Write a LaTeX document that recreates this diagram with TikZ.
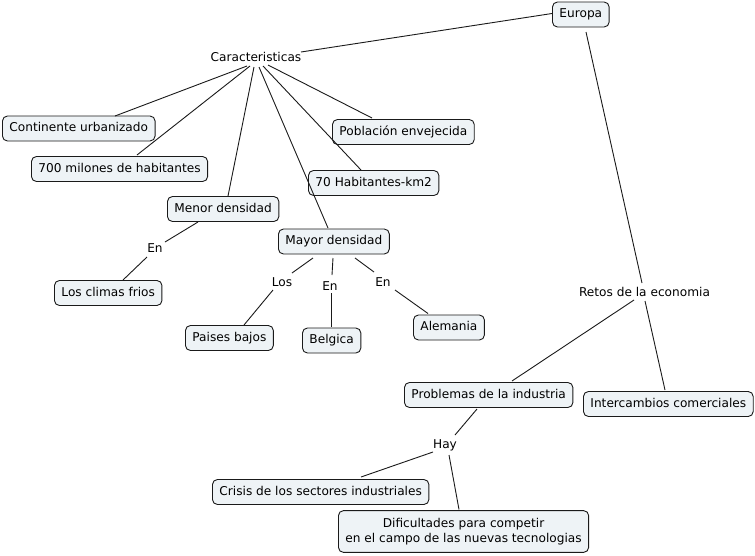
\documentclass[tikz,border=0pt]{standalone}
\usepackage{fontspec}
\setmainfont{DejaVu Sans}
\usetikzlibrary{calc}
\definecolor{boxfill}{HTML}{EEF3F6}
\definecolor{edge}{HTML}{1A1A1A}
\tikzset{
  concept/.style={draw=edge, fill=boxfill, rounded corners=5pt, line width=0.9pt,
    anchor=west, inner xsep=7pt, inner ysep=6.5pt, text height=9pt, text depth=3pt},
  concept2/.style={draw=edge, fill=boxfill, rounded corners=5pt, line width=0.9pt,
    anchor=west, inner xsep=7pt, inner ysep=7.5pt, align=center},
  phrase/.style={inner sep=1pt},
  link/.style={draw=edge, line width=0.9pt}
}
\begin{document}
\begin{tikzpicture}[x=1pt,y=-1pt,font=\fontsize{12.15}{15}\selectfont]
\useasboundingbox[fill=white] (0,0) rectangle (755,555);
% concepts
\node[concept] (eur) at (552,14.5) {Europa};
\node[concept] (cont) at (2,128.5) {Continente urbanizado};
\node[concept] (mil) at (31,169) {700 milones de habitantes};
\node[concept] (pob) at (332,132) {Población envejecida};
\node[concept] (hab) at (308,183) {70 Habitantes-km2};
\node[concept] (menor) at (167,209) {Menor densidad};
\node[concept] (mayor) at (278,241.5) {Mayor densidad};
\node[concept] (climas) at (54,293) {Los climas frios};
\node[concept] (paises) at (185,338) {Paises bajos};
\node[concept] (belg) at (302,340.5) {Belgica};
\node[concept] (alem) at (413,327.5) {Alemania};
\node[concept] (prob) at (404,395) {Problemas de la industria};
\node[concept] (inter) at (583,404) {Intercambios comerciales};
\node[concept] (crisis) at (212,492) {Crisis de los sectores industriales};
\node[concept2] (dif) at (338,531.5) {Dificultades para competir\\en el campo de las nuevas tecnologias};
% linking phrases
\node[phrase] (car) at (256,57) {Caracteristicas};
\node[phrase] (retos) at (644.5,292) {Retos de la economia};
\node[phrase] (en1) at (155,248) {En};
\node[phrase] (los) at (282,282) {Los};
\node[phrase] (en2) at (330,286) {En};
\node[phrase] (en3) at (383,282) {En};
\node[phrase] (hay) at (445,445) {Hay};
% connectors
\draw[link] ($(eur.west)+(0,-1)$) -- ($(car)+(45,-5)$);
\draw[link] ($(car)+(-9,9)$) -- ($(cont.west)+(113,-12.5)$);
\draw[link] ($(car)+(-6,9)$) -- ($(mil.west)+(106,-14)$);
\draw[link] ($(car)+(-2,10)$) -- ($(menor.west)+(61,-13)$);
\draw[link] ($(car)+(3,10)$) -- ($(mayor.west)+(50,-13.5)$);
\draw[link] ($(car)+(7,9)$) -- ($(hab.west)+(53,-13)$);
\draw[link] ($(car)+(12,8)$) -- ($(pob.west)+(40,-14)$);
\draw[link] ($(eur.west)+(34,17.5)$) -- ($(retos)+(-2.5,-9)$);
\draw[link] ($(retos)+(-10.5,8)$) -- ($(prob.west)+(108,-14)$);
\draw[link] ($(retos)+(0.5,9)$) -- ($(inter.west)+(82,-14)$);
\draw[link] ($(menor.west)+(31,13)$) -- ($(en1)+(10,-6)$);
\draw[link] ($(en1)+(-8,9)$) -- ($(climas.west)+(69,-13)$);
\draw[link] ($(mayor.west)+(35,16.5)$) -- ($(los)+(10,-9)$);
\draw[link] ($(los)+(-9,8)$) -- ($(paises.west)+(59,-13)$);
\draw[link] ($(mayor.west)+(55,16.5)$) -- ($(en2)+(2,-11)$);
\draw[link] ($(en2)+(1,7)$) -- ($(belg.west)+(29,-13.5)$);
\draw[link] ($(mayor.west)+(77,16.5)$) -- ($(en3)+(-9,-10)$);
\draw[link] ($(en3)+(12,8)$) -- ($(alem.west)+(15,-14)$);
\draw[link] ($(prob.west)+(73,14)$) -- ($(hay)+(10,-10)$);
\draw[link] ($(hay)+(-12,7)$) -- ($(crisis.west)+(149,-15)$);
\draw[link] ($(hay)+(4,10)$) -- ($(dif.west)+(121,-22)$);
\end{tikzpicture}
\end{document}
